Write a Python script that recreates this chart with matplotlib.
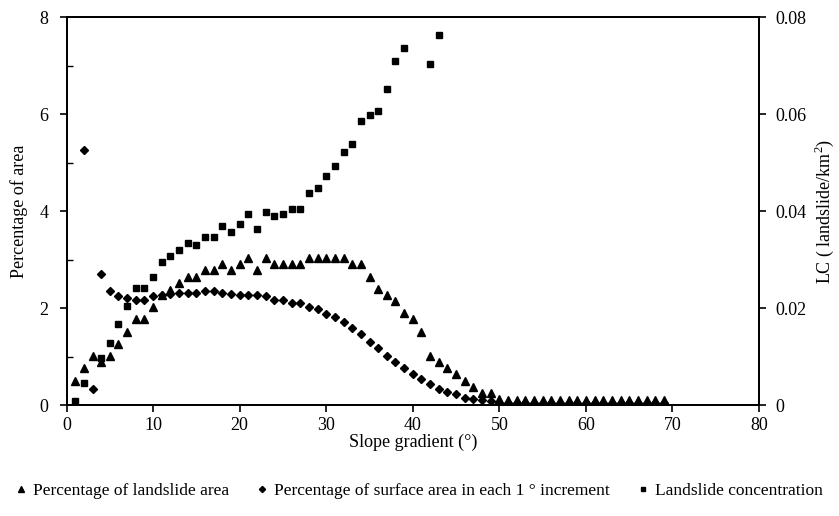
import matplotlib
matplotlib.use('Agg')
import matplotlib.pyplot as plt
import numpy as np
from matplotlib import rcParams
from matplotlib.ticker import MultipleLocator

rcParams.update({
    'font.family': ['Liberation Serif', 'DejaVu Serif'],
    'mathtext.fontset': 'custom',
    'mathtext.rm': 'Liberation Serif',
})

nan = np.nan

# slope gradient (degrees), 1..69
slope = np.arange(1, 70)

# Percentage of landslide area (%)
landslide_area = [0.50, 0.77, 1.01, 0.89, 1.01, 1.26, 1.50, 1.77, 1.77, 2.02,
                  2.27, 2.38, 2.51, 2.63, 2.63, 2.79, 2.79, 2.90, 2.79, 2.90,
                  3.03, 2.79, 3.03, 2.90, 2.90, 2.90, 2.90, 3.03, 3.03, 3.03,
                  3.03, 3.03, 2.90, 2.90, 2.63, 2.39, 2.27, 2.14, 1.89, 1.77,
                  1.50, 1.01, 0.89, 0.77, 0.65, 0.50, 0.38, 0.25, 0.25, 0.12,
                  0.10, 0.10, 0.10, 0.10, 0.10, 0.10, 0.10, 0.10, 0.10, 0.10,
                  0.10, 0.10, 0.10, 0.10, 0.10, 0.10, 0.10, 0.10, 0.10]

# Percentage of surface area in each 1 degree increment (%)
surface_area = [nan, 5.26, 0.34, 2.70, 2.36, 2.24, 2.21, 2.17, 2.17, 2.24,
                2.27, 2.30, 2.32, 2.32, 2.32, 2.36, 2.36, 2.32, 2.30, 2.27,
                2.27, 2.27, 2.24, 2.17, 2.17, 2.11, 2.11, 2.02, 1.99, 1.87,
                1.81, 1.71, 1.59, 1.47, 1.29, 1.17, 1.01, 0.89, 0.77, 0.65,
                0.53, 0.43, 0.34, 0.27, 0.22, 0.15, 0.12, 0.10, 0.08, 0.05,
                0.05, 0.05, 0.05, 0.05, 0.05, 0.05, 0.05, 0.05, 0.05, 0.05,
                0.05, 0.05, 0.05, 0.05, 0.05, 0.05, 0.05, 0.05, 0.05]

# Landslide concentration (landslide/km2), only up to 43 degrees
lc_slope = [1, 2, 4, 5, 6, 7, 8, 9, 10, 11, 12, 13, 14, 15, 16, 17, 18, 19, 20,
            21, 22, 23, 24, 25, 26, 27, 28, 29, 30, 31, 32, 33, 34, 35, 36, 37,
            38, 39, 42, 43]
lc = [0.0009, 0.0045, 0.0096, 0.0127, 0.0167, 0.0204, 0.0241, 0.0241, 0.0264,
      0.0295, 0.0307, 0.0320, 0.0334, 0.0331, 0.0347, 0.0347, 0.0369, 0.0356,
      0.0374, 0.0393, 0.0362, 0.0398, 0.0389, 0.0393, 0.0404, 0.0404, 0.0438,
      0.0447, 0.0472, 0.0493, 0.0521, 0.0539, 0.0585, 0.0597, 0.0606, 0.0652,
      0.0709, 0.0737, 0.0704, 0.0762]

fig = plt.figure(figsize=(8.39, 5.16), dpi=100)
ax = fig.add_axes([0.0793, 0.215, 0.8254, 0.752])
ax2 = ax.twinx()

ax.plot(slope, landslide_area, '^', color='black', markersize=5.5, linestyle='none',
        label='Percentage of landslide area')
ax.plot(slope, surface_area, 'D', color='black', markersize=4.2, linestyle='none',
        label='Percentage of surface area in each 1 \u00b0 increment')
ax2.plot(lc_slope, lc, 's', color='black', markersize=4.8, linestyle='none',
         label='Landslide concentration')

ax.set_xlim(0, 80)
ax.set_ylim(0, 8)
ax2.set_ylim(0, 0.08)
ax.set_xticks(np.arange(0, 81, 10))
ax.set_yticks(np.arange(0, 9, 2))
ax.yaxis.set_minor_locator(MultipleLocator(1))
ax2.set_yticks([0, 0.02, 0.04, 0.06, 0.08])
ax2.set_yticklabels(['0', '0.02', '0.04', '0.06', '0.08'])

ax.tick_params(axis='both', which='major', direction='out', length=5, width=1.2,
               labelsize=13)
ax.tick_params(axis='y', which='major', pad=8)
ax.tick_params(axis='y', which='minor', direction='in', length=4, width=1.0)
ax2.tick_params(axis='y', which='major', direction='out', length=5, width=1.2,
                labelsize=13, pad=7)

for a in (ax, ax2):
    for s in a.spines.values():
        s.set_linewidth(1.3)

ax.set_xlabel('Slope gradient (\u00b0)', fontsize=13, labelpad=0)
ax.set_ylabel('Percentage of area', fontsize=13, labelpad=8)
ax2.set_ylabel('LC ( landslide/km$^2$)', fontsize=13, labelpad=4)

handles = ax.get_lines() + ax2.get_lines()
fig.legend(handles, [h.get_label() for h in handles], loc='center',
           bbox_to_anchor=(0.5, 0.049), ncol=3, frameon=False, fontsize=12.5,
           markerscale=0.75, handlelength=0.6, handletextpad=0.4,
           columnspacing=1.6)

fig.savefig('out.png', dpi=100)
